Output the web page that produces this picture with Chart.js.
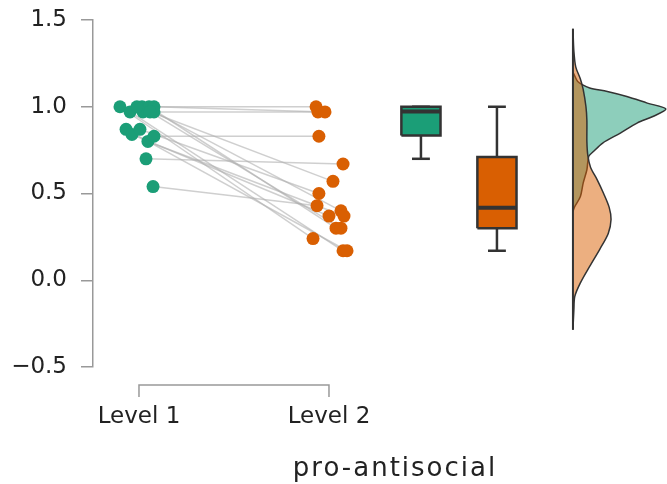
<!DOCTYPE html>
<html>
<head>
<meta charset="utf-8">
<script src="https://cdn.jsdelivr.net/npm/chart.js@4.4.1/dist/chart.umd.min.js"></script>
<style>
  body { margin: 0; background: #fff; }
  canvas { display: block; }
</style>
</head>
<body>
<canvas id="chart" width="667" height="484"></canvas>
<script>
// categories + per-subject values (paired by index)
const xCategories = ['Level 1', 'Level 2'];
const xTitle = 'pro-antisocial';
const level1Values = [1.00, 0.97, 1.00, 0.97, 1.00, 1.00, 0.97, 0.87, 0.84, 0.87, 0.80, 0.83, 0.70, 0.54, 1.00, 0.97];
const level2Values = [0.24, 0.17, 1.00, 0.97, 0.30, 0.97, 0.40, 0.17, 0.37, 0.50, 0.37, 0.83, 0.67, 0.43, 0.57, 0.30];
// horizontal jitter of each dot around its category
const level1Jitter = [-0.100, -0.047, 0.016, 0.021, 0.053, 0.079, 0.079, -0.068, -0.037, 0.005, 0.047, 0.079, 0.037, 0.074, -0.011, 0.058];
const level2Jitter = [-0.084, 0.074, -0.068, -0.058, 0.037, -0.021, 0.063, 0.095, 0.000, -0.053, 0.079, -0.053, 0.074, -0.063, 0.021, 0.063];

// box plot stats [Level 1, Level 2]
const boxLow = [0.70, 0.17];
const boxQ1 = [0.835, 0.30];
const boxMedian = [0.973, 0.418];
const boxQ3 = [1.00, 0.71];
const boxHigh = [1.00, 1.00];

// half violin profiles (relative density at each y)
const level1DensityY = [1.20, 1.146, 1.127, 1.108, 1.088, 1.059, 1.021, 0.987, 0.944, 0.906, 0.848, 0.791, 0.742, 0.714, 0.637, 0.560, 0.483, 0.425, 0.397];
const level1Density = [0, 0.05, 0.10, 0.18, 0.37, 0.58, 0.80, 1.00, 0.86, 0.69, 0.51, 0.32, 0.22, 0.17, 0.15, 0.11, 0.08, 0.02, 0];
const level2DensityY = [1.45, 1.32, 1.23, 1.16, 1.10, 1.00, 0.92, 0.80, 0.72, 0.65, 0.58, 0.50, 0.42, 0.35, 0.27, 0.18, 0.08, -0.015, -0.093, -0.17, -0.285];
const level2Density = [0, 0.01, 0.03, 0.08, 0.11, 0.14, 0.15, 0.15, 0.16, 0.19, 0.26, 0.33, 0.39, 0.41, 0.38, 0.29, 0.18, 0.08, 0.02, 0.01, 0];

const yTicks = [-0.5, 0, 0.5, 1.0, 1.5];

const GREEN = '#1b9e77';
const ORANGE = '#d95f02';
const colors = [GREEN, ORANGE];
const fills = ['rgba(27,158,119,0.5)', 'rgba(217,95,2,0.5)'];

// layout in x-scale units
const boxCenters = [2.484, 2.884];
const boxHalf = 0.103;
const capHalf = 0.047;
const violinBase = 3.284;
const violinWidth = 0.489;

const datasets = [];

function seg(points, color, width, order) {
  datasets.push({
    type: 'line',
    data: points.map(p => ({ x: p[0], y: p[1] })),
    borderColor: color,
    borderWidth: width,
    pointRadius: 0,
    fill: false,
    order: order
  });
}

// dots
datasets.push({
  type: 'scatter',
  data: level1Values.map((v, i) => ({ x: 1 + level1Jitter[i], y: v })),
  backgroundColor: GREEN,
  borderWidth: 0,
  pointRadius: 6.5,
  order: 0
});
datasets.push({
  type: 'scatter',
  data: level2Values.map((v, i) => ({ x: 2 + level2Jitter[i], y: v })),
  backgroundColor: ORANGE,
  borderWidth: 0,
  pointRadius: 6.5,
  order: 0
});

// connecting lines
level1Values.forEach((v, i) => {
  seg([[1 + level1Jitter[i], v], [2 + level2Jitter[i], level2Values[i]]], 'rgba(175,175,175,0.6)', 1.5, 10);
});

// box plots
boxCenters.forEach((c, i) => {
  seg([[c, boxLow[i]], [c, boxQ1[i]]], '#333', 2.5, 2);
  seg([[c, boxQ3[i]], [c, boxHigh[i]]], '#333', 2.5, 2);
  seg([[c - capHalf, boxLow[i]], [c + capHalf, boxLow[i]]], '#333', 2.5, 2);
  seg([[c - capHalf, boxHigh[i]], [c + capHalf, boxHigh[i]]], '#333', 2.5, 2);
  datasets.push({
    type: 'line',
    data: [[c - boxHalf, boxQ1[i]], [c + boxHalf, boxQ1[i]], [c + boxHalf, boxQ3[i]], [c - boxHalf, boxQ3[i]], [c - boxHalf, boxQ1[i]]]
      .map(p => ({ x: p[0], y: p[1] })),
    borderColor: '#333',
    borderWidth: 2.5,
    backgroundColor: colors[i],
    fill: 'shape',
    pointRadius: 0,
    order: 1
  });
  seg([[c - boxHalf, boxMedian[i]], [c + boxHalf, boxMedian[i]]], '#333', 4, 0);
});

// half violins
[[level1DensityY, level1Density], [level2DensityY, level2Density]].forEach((d, i) => {
  const pts = d[0].map((y, k) => ({ x: violinBase + d[1][k] * violinWidth, y: y }));
  datasets.push({
    type: 'line',
    data: pts,
    borderColor: '#333',
    borderWidth: 1.5,
    backgroundColor: fills[i],
    fill: 'shape',
    tension: 0.3,
    pointRadius: 0,
    order: 4 - i
  });
});
seg([[violinBase, level2DensityY[0]], [violinBase, level2DensityY[level2DensityY.length - 1]]], '#333', 2, 1);

const axisDecor = {
  id: 'axisDecor',
  afterDraw(chart) {
    const { ctx, chartArea, scales } = chart;
    const xs = scales.x;
    const x1 = xs.getPixelForValue(1);
    const x2 = xs.getPixelForValue(2);
    const y = chartArea.bottom + 18;
    ctx.save();
    ctx.strokeStyle = '#999';
    ctx.lineWidth = 1.5;
    ctx.beginPath();
    ctx.moveTo(x1, y + 12);
    ctx.lineTo(x1, y);
    ctx.lineTo(x2, y);
    ctx.lineTo(x2, y + 12);
    ctx.stroke();
    ctx.fillStyle = '#222';
    ctx.font = '26px "DejaVu Sans"';
    ctx.letterSpacing = '2px';
    ctx.textAlign = 'center';
    ctx.textBaseline = 'alphabetic';
    ctx.fillText(xTitle, (chartArea.left + chartArea.right) / 2 + 15, 476);
    ctx.restore();
  }
};

new Chart(document.getElementById('chart'), {
  type: 'scatter',
  data: { datasets: datasets },
  options: {
    responsive: false,
    animation: false,
    devicePixelRatio: 1,
    layout: { autoPadding: false, padding: { top: 20, right: 0, bottom: 0, left: 0 } },
    plugins: { legend: { display: false }, tooltip: { enabled: false } },
    scales: {
      x: {
        type: 'linear',
        min: 0.758,
        max: 3.779,
        afterBuildTicks: scale => { scale.ticks = xCategories.map((c, i) => ({ value: i + 1 })); },
        afterFit: scale => { scale.height = 117; },
        grid: { display: false, drawTicks: false },
        border: { display: false },
        ticks: {
          autoSkip: false,
          maxRotation: 0,
          padding: 36,
          color: '#222',
          font: { family: 'DejaVu Sans', size: 23 },
          callback: v => xCategories[v - 1]
        }
      },
      y: {
        min: -0.5,
        max: 1.5,
        afterBuildTicks: scale => { scale.ticks = yTicks.map(v => ({ value: v })); },
        afterFit: scale => {
          scale.width = 93;
          scale.paddingTop = 0;
          scale.paddingBottom = 0;
        },
        grid: { drawOnChartArea: false, color: '#999', lineWidth: 1.5, tickLength: 12 },
        border: { display: true, color: '#999', width: 1.5 },
        ticks: {
          padding: 14,
          color: '#222',
          font: { family: 'DejaVu Sans', size: 23 },
          callback: v => v.toFixed(1).replace('-', '\u2212')
        }
      }
    }
  },
  plugins: [axisDecor]
});
</script>
</body>
</html>
